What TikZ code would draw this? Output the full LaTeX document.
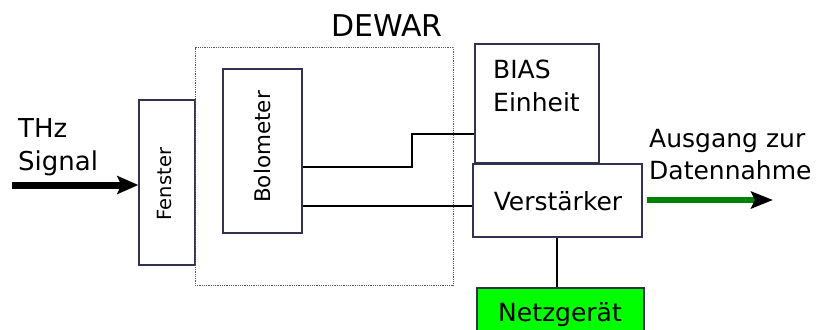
\documentclass[tikz,border=0pt]{standalone}
\usepackage{fontspec}
\setmainfont{DejaVu Sans}
\usetikzlibrary{arrows.meta}
\definecolor{boxline}{RGB}{50,50,80}
\definecolor{dewarline}{RGB}{90,90,110}
\definecolor{outgreen}{RGB}{0,130,0}
\definecolor{psgreen}{RGB}{0,255,0}
\begin{document}
\begin{tikzpicture}[x=1pt,y=-1pt,
  box/.style={draw=boxline, line width=1.4pt, fill=white, inner sep=0pt},
  wire/.style={draw=black, line width=1.2pt},
  lbl/.style={inner sep=0pt, text=black},
  bigfont/.style={font=\fontsize{25}{33}\selectfont},
]
\clip (0,0) rectangle (826,329);

% entrance window
\node[box, minimum width=56pt, minimum height=165pt] (fen) at (167,182.5) {};
\node[lbl, rotate=90, font=\fontsize{19.5}{24}\selectfont] (fentxt) at (165,184) {Fenster};

% cryostat outline
\node[draw=dewarline, line width=1pt, dash pattern=on 1pt off 0.8pt,
      minimum width=258pt, minimum height=237pt, inner sep=0pt] (dewar) at (324,166.5) {};
\node[lbl, anchor=base, font=\fontsize{30}{36}\selectfont] (dewartxt) at (387,37) {DEWAR};

% wiring
\draw[wire] (302,167) coordinate (b1) -| (412,134) -- (475,134) coordinate (bin);
\draw[wire] (302,206) coordinate (b2) -- (473,206) coordinate (vin);
\draw[wire] (557,237) coordinate (vout) -- (557,288) coordinate (nin);

% bolometer
\node[box, minimum width=79pt, minimum height=164pt] (bolo) at (262.5,151) {};
\node[lbl, rotate=90, font=\fontsize{21.5}{26}\selectfont] (bolotxt) at (262,147) {Bolometer};

% bias unit and amplifier
\node[box, minimum width=124pt, minimum height=119pt] (bias) at (537,103.5) {};
\node[lbl, anchor=north west, align=left, bigfont] (biastxt) at (493,60) {BIAS\\Einheit};
\node[box, minimum width=169pt, minimum height=73pt] (ver) at (557.5,200.5) {};
\node[lbl, anchor=base, bigfont] (vertxt) at (558,210) {Verstärker};

% power supply
\node[box, fill=psgreen, minimum width=167pt, minimum height=60pt] (netz) at (560.5,318) {};
\node[lbl, anchor=base, bigfont] (netztxt) at (560,321) {Netzgerät};

% incoming signal
\node[lbl, anchor=north west, align=left, font=\fontsize{26}{33}\selectfont] (thz) at (18,118) {THz\\Signal};
\coordinate (thzin) at (12,185);
\draw[line width=7pt, -{Stealth[length=21pt,width=18pt,inset=4pt]}] (thzin) -- (fen.west |- thzin);

% output
\node[lbl, anchor=north west, align=left, font=\fontsize{25}{32}\selectfont] (outtxt) at (649,129) {Ausgang zur\\Datennahme};
\coordinate (dataout) at (773,200);
\draw[outgreen, line width=6pt, -{Stealth[length=22pt,width=17pt,inset=4pt,black]}] ([xshift=4pt]ver.east |- dataout) -- (dataout);
\end{tikzpicture}
\end{document}
